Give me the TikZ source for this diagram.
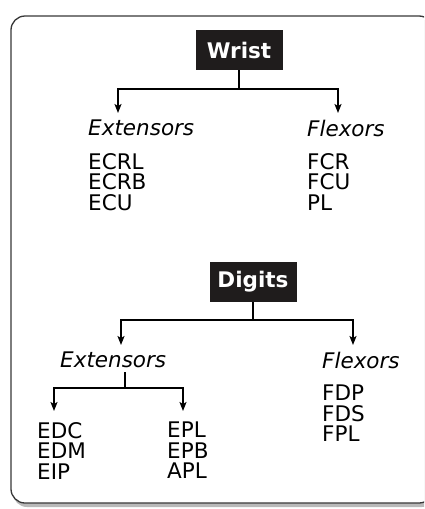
\documentclass[tikz,border=0pt]{standalone}
\usepackage{fontspec}
\setmainfont{DejaVu Sans}
\usetikzlibrary{arrows.meta}
\definecolor{BoxBlack}{rgb}{0.12,0.11,0.11}
\definecolor{FrameGray}{rgb}{0.22,0.22,0.22}

\begin{document}
\begin{tikzpicture}[x=1pt,y=-1pt,
        head/.style={fill=BoxBlack,text=white,font=\fontsize{21.5}{21}\selectfont\bfseries,
            minimum width=87pt,minimum height=40pt,inner sep=0pt},
        group/.style={font=\fontsize{21.5}{21}\selectfont\itshape,anchor=north west,inner sep=0pt},
        muscles/.style={font=\fontsize{21.5}{20.5}\selectfont,anchor=north west,inner sep=0pt,align=left},
        link/.style={line width=1.3pt,-{Stealth[length=9pt,width=7pt,inset=2pt]}}]
        \useasboundingbox (0,0) rectangle (424,509);
        \clip (0,0) rectangle (424,509);

        % frame with its shadow
        \fill[gray!55,rounded corners=14pt] (13,20) rectangle (436,507);
        \draw[line width=1.3pt,FrameGray,fill=white,rounded corners=14pt] (11,16) rectangle (433,503);

        % wrist
        \node[head] (wrist) at (239,50) {Wrist};
        \node[group] (wext) at (88,120) {Extensors};
        \node[group] (wflex) at (307,120) {Flexors};
        \node[muscles] (wextlist) at (88,153) {ECRL\\ECRB\\ECU};
        \node[muscles] (wflexlist) at (307,153) {FCR\\FCU\\PL};

        \coordinate (wsplit) at (239,89);
        \coordinate (wleft) at (118,113);
        \coordinate (wright) at (338,113);
        \draw[link] (wrist.south) -- (wsplit) -| (wleft);
        \draw[link] (wsplit) -| (wright);

        % digits
        \node[head] (digits) at (253,282) {Digits};
        \node[group] (dext) at (60,352) {Extensors};
        \node[group] (dflex) at (322,352) {Flexors};
        \node[muscles] (dextlist) at (37,422) {EDC\\EDM\\EIP};
        \node[muscles] (dpollist) at (167,422) {EPL\\EPB\\APL};
        \node[muscles] (dflexlist) at (322,385) {FDP\\FDS\\FPL};

        \coordinate (dsplit) at (253,320);
        \coordinate (dleft) at (121,345);
        \coordinate (dright) at (353,345);
        \draw[link] (digits.south) -- (dsplit) -| (dleft);
        \draw[link] (dsplit) -| (dright);

        \coordinate (esplit) at (125,388);
        \coordinate (eleft) at (54,411);
        \coordinate (eright) at (183,411);
        \draw[link] (dext.south west -| esplit) ++(0,4) -- (esplit) -| (eleft);
        \draw[link] (esplit) -| (eright);
    \end{tikzpicture}
\end{document}
